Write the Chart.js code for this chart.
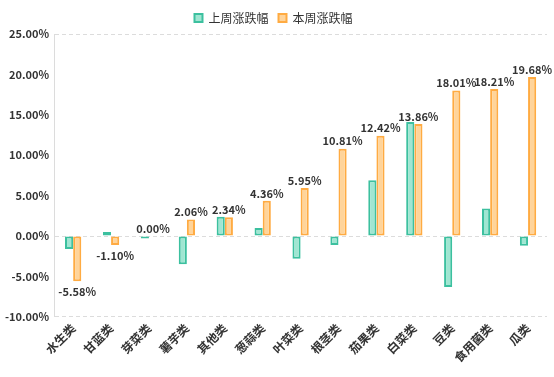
<!DOCTYPE html>
<html>
<head>
<meta charset="utf-8">
<script src="https://cdn.jsdelivr.net/npm/chart.js@4/dist/chart.umd.min.js"></script>
<style>
  html, body { margin: 0; padding: 0; background: #fff; }
  #wrap { width: 554px; height: 377px; }
</style>
</head>
<body>
<div id="wrap"><canvas id="chart"></canvas></div>
<script>
const categories = ['水生类', '甘蓝类', '芽菜类', '薯芋类', '其他类', '葱蒜类', '叶菜类', '根茎类', '茄果类', '白菜类', '豆类', '食用菌类', '瓜类'];
const lastWeek = [-1.6, 0.5, -0.3, -3.5, 2.4, 1.0, -2.8, -1.1, 6.9, 14.1, -6.3, 3.4, -1.2];
const thisWeek = [-5.58, -1.10, 0.00, 2.06, 2.34, 4.36, 5.95, 10.81, 12.42, 13.86, 18.01, 18.21, 19.68];
const yTicks = [-10, -5, 0, 5, 10, 15, 20, 25];

const FONT = '"Noto Sans CJK SC", "Noto Sans", sans-serif';
const gridCol = '#dcdcdc';

// 本周数值标签
const valueLabels = {
    id: 'valueLabels',
    afterDatasetsDraw(chart) {
        const ctx = chart.ctx;
        const meta = chart.getDatasetMeta(1);
        ctx.save();
        ctx.font = 'bold 11px ' + FONT;
        ctx.fillStyle = '#333';
        ctx.textAlign = 'center';
        meta.data.forEach((bar, i) => {
            const v = thisWeek[i];
            const txt = v.toFixed(2) + '%';
            if (v >= 0) {
                ctx.textBaseline = 'bottom';
                ctx.fillText(txt, bar.x, bar.y - 2);
            } else {
                ctx.textBaseline = 'top';
                ctx.fillText(txt, bar.x, bar.y + 5);
            }
        });
        ctx.restore();
    }
};

new Chart(document.getElementById('chart'), {
    type: 'bar',
    data: {
        labels: categories,
        datasets: [{
            label: '上周涨跌幅',
            data: lastWeek,
            backgroundColor: '#a0e6d2',
            borderColor: '#3cc09f',
            borderWidth: 2,
            borderSkipped: false,
            categoryPercentage: 0.43,
            barPercentage: 1
        }, {
            label: '本周涨跌幅',
            data: thisWeek,
            backgroundColor: '#ffd49a',
            borderColor: '#ffab42',
            borderWidth: 2,
            borderSkipped: false,
            categoryPercentage: 0.43,
            barPercentage: 1
        }]
    },
    options: {
        responsive: true,
        maintainAspectRatio: false,
        animation: false,
        layout: { padding: { left: 0, right: 7, top: 2, bottom: 8 } },
        plugins: {
            legend: {
                position: 'top',
                labels: {
                    boxWidth: 8,
                    boxHeight: 8,
                    padding: 10,
                    color: '#333',
                    font: { family: FONT, size: 12 }
                }
            },
            tooltip: { enabled: false }
        },
        scales: {
            x: {
                grid: {
                    offset: true,
                    color: (c) => (c.index === 0 || c.index === categories.length) ? gridCol : 'rgba(0,0,0,0)',
                    drawTicks: false
                },
                border: { display: false, dash: [4, 3] },
                ticks: {
                    color: '#333',
                    font: { family: FONT, size: 12, weight: 'bold' },
                    minRotation: 45,
                    maxRotation: 45,
                    autoSkip: false,
                    padding: 4
                }
            },
            y: {
                min: yTicks[0],
                max: yTicks[yTicks.length - 1],
                afterBuildTicks: (axis) => { axis.ticks = yTicks.map(v => ({ value: v })); },
                grid: {
                    color: (c) => (c.tick && (c.tick.value === 0 || c.tick.value === 25 || c.tick.value === -10)) ? gridCol : 'rgba(0,0,0,0)',
                    drawTicks: false
                },
                border: { display: true, color: gridCol, dash: [4, 3] },
                ticks: {
                    color: '#333',
                    font: { family: FONT, size: 11, weight: 'bold' },
                    padding: 5,
                    callback: (v) => v.toFixed(2) + '%'
                }
            }
        }
    },
    plugins: [valueLabels]
});
</script>
</body>
</html>
